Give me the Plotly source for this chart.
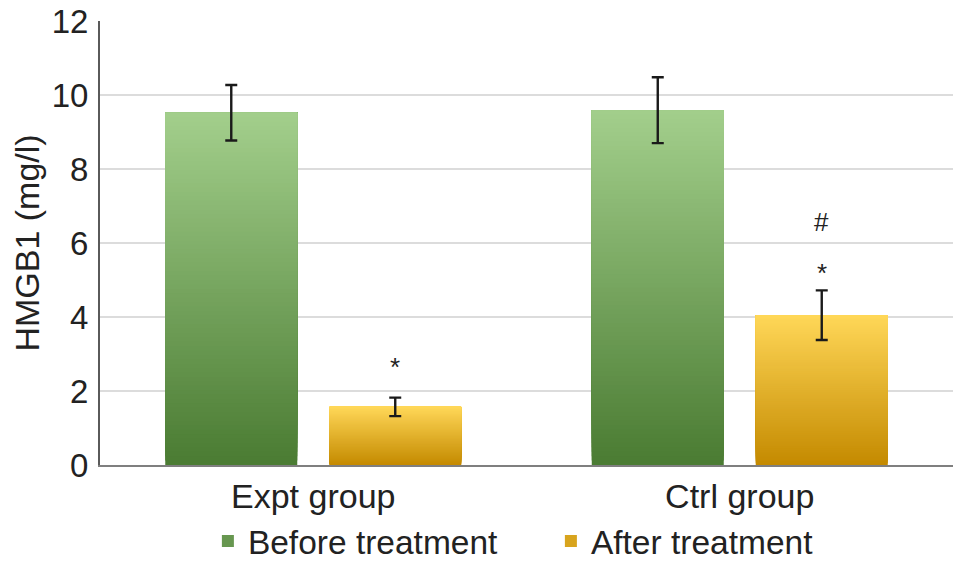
import plotly.graph_objects as go

categories = ["Expt group", "Ctrl group"]
before_values = [9.52, 9.59]
before_errors = [0.75, 0.89]
after_values = [1.57, 4.05]
after_errors = [0.25, 0.67]
series_names = ["Before treatment", "After treatment"]
# significance labels per group for the "after" bars (text, stacked bottom->top)
sig_labels = [["*"], ["*", "#"]]
y_ticks = [0, 2, 4, 6, 8, 10, 12]

N_SEG = 80
green_bottom, green_top = (0x4a, 0x7b, 0x32), (0xa3, 0xcf, 0x8c)
yellow_bottom, yellow_top = (0xc4, 0x8a, 0x00), (0xff, 0xd7, 0x58)

FONT = "Liberation Sans, Arial, Helvetica, sans-serif"


def lerp(c0, c1, t):
    return "rgb(%d,%d,%d)" % tuple(round(a + (b - a) * t) for a, b in zip(c0, c1))


fig = go.Figure()


def add_gradient_bars(values, name, group, c_bot, c_top):
    # each layer spans from its own base up to the bar top; later (lighter)
    # layers cover the upper part, giving a seamless vertical gradient
    for i in range(N_SEG):
        t = (i + 0.5) / N_SEG
        fig.add_trace(go.Bar(
            x=categories,
            y=[v * (N_SEG - i) / N_SEG for v in values],
            base=[v * i / N_SEG for v in values],
            offsetgroup=group,
            marker=dict(color=lerp(c_bot, c_top, t), line=dict(width=0)),
            name=name,
            legendgroup=group,
            showlegend=(i == N_SEG // 3),
            hoverinfo="skip",
        ))


add_gradient_bars(before_values, series_names[0], "before", green_bottom, green_top)
add_gradient_bars(after_values, series_names[1], "after", yellow_bottom, yellow_top)

for vals, errs, group in [(before_values, before_errors, "before"),
                          (after_values, after_errors, "after")]:
    fig.add_trace(go.Bar(
        x=categories, y=vals, offsetgroup=group,
        marker=dict(color="rgba(0,0,0,0)", line=dict(width=0)),
        error_y=dict(type="data", array=errs, visible=True,
                     color="#1a1a1a", thickness=2.4, width=6),
        showlegend=False, hoverinfo="skip",
    ))

sig_shift = {("Expt group", "*"): 31, ("Ctrl group", "*"): 17, ("Ctrl group", "#"): 68}
annotations = []
for cat, v, e, labels in zip(categories, after_values, after_errors, sig_labels):
    for lab in labels:
        annotations.append(dict(
            x=cat, y=v + e, xref="x", yref="y", text=lab, showarrow=False,
            xshift=82, yshift=sig_shift[(cat, lab)], yanchor="middle",
            font=dict(size=26, color="#222", family=FONT),
        ))

# the page body adds an 8px offset, so the figure is sized to fit inside it
fig.update_layout(
    width=961, height=559,
    margin=dict(l=92, r=16, t=13, b=102, autoexpand=False),
    paper_bgcolor="white", plot_bgcolor="white",
    barmode="group", bargap=0.231, bargroupgap=0.195,
    font=dict(family=FONT, size=34, color="#222"),
    showlegend=True,
    legend=dict(orientation="h", xref="container", x=0.208, xanchor="left",
                yref="container", y=0.046, yanchor="middle",
                font=dict(size=33.5), itemwidth=30, entrywidth=298,
                traceorder="normal", bgcolor="rgba(0,0,0,0)"),
    annotations=annotations,
    xaxis=dict(showline=True, linecolor="#7f7f7f", linewidth=1.5, ticks="",
               tickfont=dict(size=34), showgrid=False, fixedrange=True,
               automargin=False),
    yaxis=dict(range=[0, 12], tickvals=y_ticks, showline=True, linecolor="#5a5a5a",
               linewidth=2, ticks="", gridcolor="#dcdcdc", gridwidth=1.5,
               tickfont=dict(size=33), ticklabelstandoff=3, zeroline=False,
               ticklabeloverflow="allow", automargin=False,
               title=dict(text="HMGB1 (mg/l)", font=dict(size=34), standoff=22)),
)

fig.write_html("out.html")
